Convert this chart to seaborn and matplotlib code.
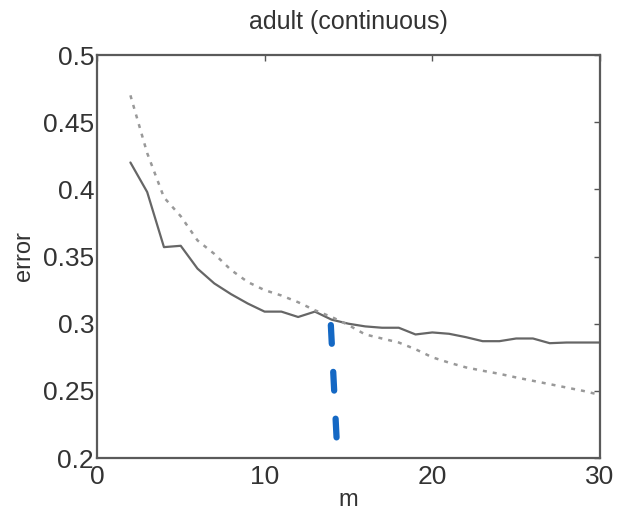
import matplotlib
matplotlib.use("Agg")
import matplotlib.pyplot as plt
import seaborn as sns
import pandas as pd

# Test error versus m for the adult data set (continuous features)
m_values = list(range(2, 31))
error_solid = [0.420, 0.398, 0.357, 0.358, 0.341, 0.330, 0.322, 0.315, 0.309,
               0.309, 0.305, 0.309, 0.303, 0.300, 0.298, 0.297, 0.297, 0.292,
               0.2935, 0.2925, 0.290, 0.287, 0.287, 0.289, 0.289, 0.2855,
               0.286, 0.286, 0.286]
error_dotted = [0.470, 0.427, 0.394, 0.380, 0.362, 0.352, 0.340, 0.331, 0.325,
                0.321, 0.316, 0.310, 0.305, 0.299, 0.292, 0.289, 0.286, 0.281,
                0.275, 0.271, 0.2675, 0.265, 0.2627, 0.260, 0.2575, 0.255,
                0.2525, 0.250, 0.247]

# Hand-drawn marker at the crossing point
marker_m = [13.95, 14.3]
marker_err = [0.299, 0.213]

x_ticks = [0, 10, 20, 30]
y_ticks = [0.2, 0.25, 0.3, 0.35, 0.4, 0.45, 0.5]
y_tick_labels = ["0.2", "0.25", "0.3", "0.35", "0.4", "0.45", "0.5"]

df = pd.DataFrame({
    "m": m_values * 2,
    "error": error_solid + error_dotted,
    "method": ["solid"] * len(m_values) + ["dotted"] * len(m_values),
})

sns.set_style("white")
plt.rcParams["font.family"] = ["Liberation Sans", "DejaVu Sans"]

fig = plt.figure(figsize=(6.17, 5.17), dpi=100)
ax = fig.add_axes([0.157, 0.114, 0.8155, 0.7796])

sns.lineplot(data=df[df.method == "solid"], x="m", y="error", ax=ax,
             color="#666666", linewidth=1.6)
sns.lineplot(data=df[df.method == "dotted"], x="m", y="error", ax=ax,
             color="#999999", linewidth=1.8, linestyle=(0, (1.6, 2.4)))

ax.plot(marker_m, marker_err, color="#1468c4", linewidth=4.5,
        linestyle=(0, (3.0, 4.5)), solid_capstyle="round",
        dash_capstyle="round")

ax.set_xlim(0, 30)
ax.set_ylim(0.2, 0.5)
ax.set_xticks(x_ticks)
ax.set_yticks(y_ticks)
ax.set_yticklabels(y_tick_labels)
ax.tick_params(direction="in", length=4, width=1, colors="#555555",
               labelcolor="#333333", labelsize=19, top=True, right=True)
ax.tick_params(axis="y", pad=2)
ax.tick_params(axis="x", pad=5)

for sp in ax.spines.values():
    sp.set_color("#5a5a5a")
    sp.set_linewidth(1.6)

ax.set_xlabel("m", fontsize=17, color="#333333", labelpad=0)
ax.set_ylabel("error", fontsize=17, color="#333333", labelpad=6)
ax.set_title("adult (continuous)", fontsize=18, color="#333333", pad=19)

fig.savefig("out.png", dpi=100)
